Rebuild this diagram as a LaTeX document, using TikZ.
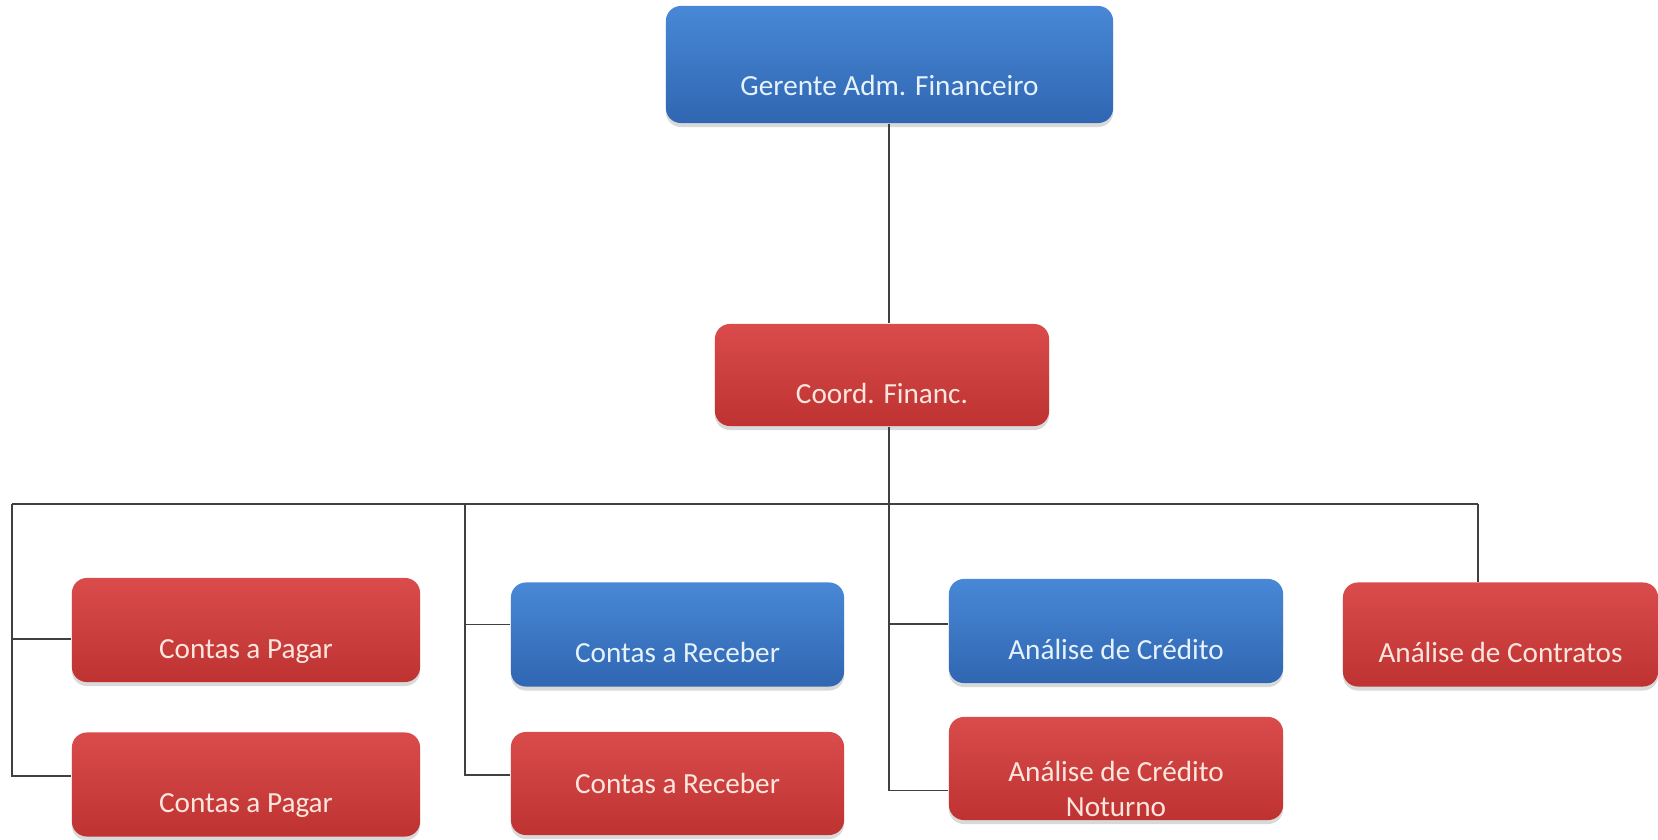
\documentclass[tikz,border=0pt]{standalone}
\usepackage{fontspec}
\setmainfont{Carlito}
\usepackage{tikz}
\usetikzlibrary{positioning,shadows}

\definecolor{blueTop}{RGB}{72,136,214}
\definecolor{blueBot}{RGB}{48,102,178}
\definecolor{blueText}{RGB}{230,242,252}
\definecolor{redTop}{RGB}{218,76,76}
\definecolor{redBot}{RGB}{190,50,50}
\definecolor{redText}{RGB}{252,230,222}

\begin{document}
\begin{tikzpicture}[x=0.01cm, y=-0.01cm,
    box/.style={rectangle, rounded corners=0.15cm, inner sep=0pt,
                font=\fontsize{8.3}{9.7}\selectfont, align=center,
                minimum width=3.34cm, text height=0.80cm, text depth=0.24cm,
                drop shadow={opacity=0.3, shadow xshift=0pt, shadow yshift=-0.04cm}},
    bluebox/.style={box, top color=blueTop, bottom color=blueBot, text=blueText},
    redbox/.style={box, top color=redTop, bottom color=redBot, text=redText},
    link/.style={draw=black!75, line width=0.45pt}
  ]
  \useasboundingbox (0,0) rectangle (1658,840);

  \node[bluebox, minimum width=4.47cm, text height=0.89cm, text depth=0.28cm]
    (ger) at (889.5,64.5) {Gerente Adm. Financeiro};
  \node[redbox, text height=0.79cm, text depth=0.23cm]
    (coord) at (882,375) {Coord. Financ.};

  \node[redbox, minimum width=3.48cm] (cp1) at (246,630) {Contas a Pagar};
  \node[redbox, minimum width=3.48cm] (cp2) at (246,784.5) {Contas a Pagar};
  \node[bluebox, minimum width=3.33cm] (cr1) at (677.5,634.5) {Contas a Receber};
  \node[redbox, minimum width=3.33cm, text height=0.61cm, text depth=0.42cm]
    (cr2) at (677.5,783.5) {Contas a Receber};
  \node[bluebox] (ac1) at (1116,631) {Análise de Crédito};
  \node[redbox, text height=0.99cm, text depth=0.04cm]
    (acn) at (1116,768.5) {Análise de Crédito\\Noturno};
  \node[redbox, minimum width=3.15cm] (act) at (1500.5,634.5) {Análise de Contratos};

  % bus
  \coordinate (g1) at (12,504);
  \coordinate (g2) at (465,504);
  \coordinate (g3) at (889,504);
  \coordinate (g4) at (1478,504);
  \draw[link] (g1) -- (g4);
  \draw[link] (ger.south -| g3) -- (coord.north -| g3);
  \draw[link] (coord.south -| g3) -- ([yshift=-0.22cm]acn.west -| g3) -- ([yshift=-0.22cm]acn.west);
  \draw[link] (g4) -- (act.north -| g4);
  \foreach \a/\b/\s in {g1/cp2/0.085,g2/cr2/0.085}
    \draw[link] (\a) |- ([yshift=\s cm]\b.west);
  \foreach \a/\b/\s in {g1/cp1/-0.09,g2/cr1/0.1,g3/ac1/0.07}{
    \coordinate (tip) at ([yshift=\s cm]\b.west);
    \draw[link] (\a |- tip) -- (tip);
  }
\end{tikzpicture}
\end{document}
